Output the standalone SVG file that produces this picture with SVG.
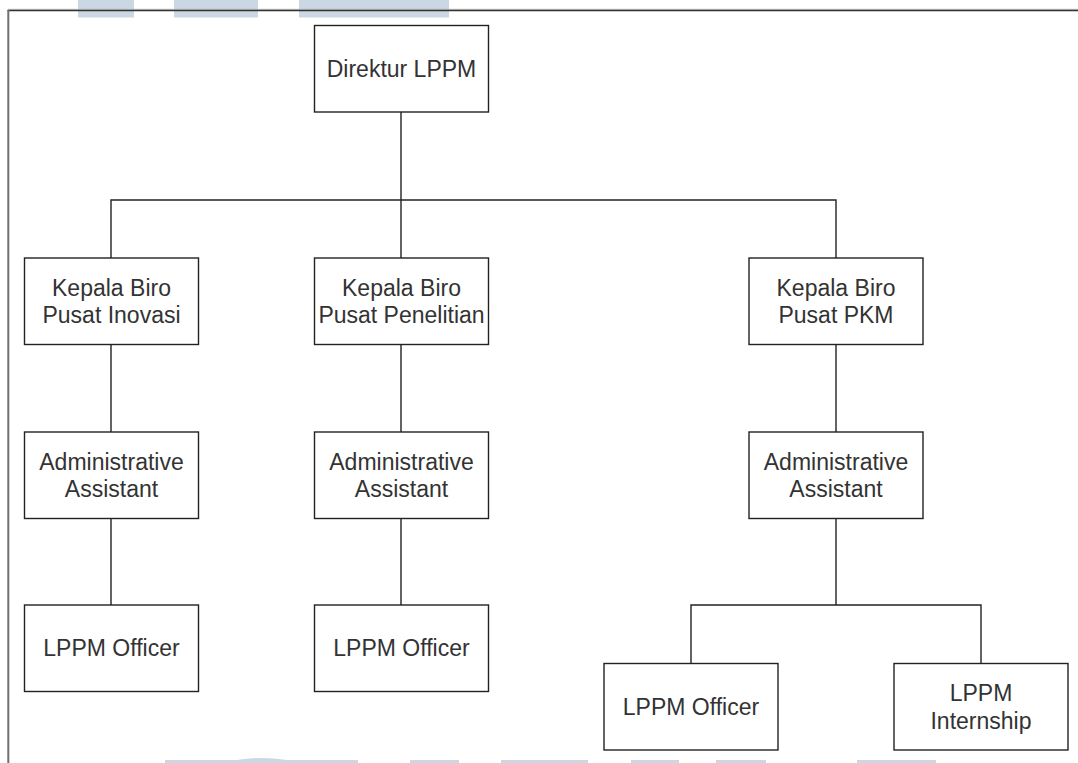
<svg xmlns="http://www.w3.org/2000/svg" width="1078" height="763" viewBox="0 0 1078 763">
<style>
.wm{fill:#cbd7e2}
.node rect{fill:#ffffff;stroke:#222222;stroke-width:1.4}
.node text{font-family:"Liberation Sans",Arial,sans-serif;font-size:23px;fill:#333333;text-anchor:middle}
#connectors path{fill:none;stroke:#222222;stroke-width:1.4}
</style>
<rect width="1078" height="763" fill="#ffffff"/>
<g id="watermark">
<rect class="wm" x="78" y="0" width="56" height="17.5"/>
<rect class="wm" x="174" y="0" width="84" height="17.5"/>
<rect class="wm" x="299" y="0" width="150" height="17.5"/>
<path class="wm" d="M165 760 L237 760 Q262 756 287 760 L358 760 L358 763 L165 763 Z"/>
<rect class="wm" x="410" y="760" width="49" height="3"/>
<rect class="wm" x="501" y="760" width="87" height="3"/>
<rect class="wm" x="631" y="760" width="48" height="3"/>
<rect class="wm" x="716" y="760" width="50" height="3"/>
<rect class="wm" x="857" y="760" width="79" height="3"/>
</g>
<g id="frame">
<line x1="8" y1="9.3" x2="1078" y2="9.3" stroke="#bbbbbb" stroke-width="1"/>
<line x1="7.5" y1="10.6" x2="1078" y2="10.6" stroke="#333333" stroke-width="1.5"/>
<line x1="8.3" y1="10" x2="8.3" y2="763" stroke="#707070" stroke-width="2"/>
</g>
<g id="connectors">
<path d="M401 112 V258"/>
<path d="M111 258 V200 H836 V258"/>
<path d="M111 344 V432"/>
<path d="M401 344 V432"/>
<path d="M836 344 V432"/>
<path d="M111 518 V605"/>
<path d="M401 518 V605"/>
<path d="M836 518 V605"/>
<path d="M691 663 V605 H981 V663"/>
</g>
<g id="n-direktur" class="node">
<rect x="314.5" y="25.5" width="174" height="86.5"/>
<text x="401.5" y="77">Direktur LPPM</text>
</g>
<g id="n-kb-inovasi" class="node">
<rect x="24.5" y="258" width="174" height="86.5"/>
<text x="111.5" y="295.5">Kepala Biro</text>
<text x="111.5" y="323">Pusat Inovasi</text>
</g>
<g id="n-kb-penelitian" class="node">
<rect x="314.5" y="258" width="174" height="86.5"/>
<text x="401.5" y="295.5">Kepala Biro</text>
<text x="401.5" y="323">Pusat Penelitian</text>
</g>
<g id="n-kb-pkm" class="node">
<rect x="749" y="258" width="174" height="86.5"/>
<text x="836" y="295.5">Kepala Biro</text>
<text x="836" y="323">Pusat PKM</text>
</g>
<g id="n-aa-1" class="node">
<rect x="24.5" y="432" width="174" height="86.5"/>
<text x="111.5" y="469.5">Administrative</text>
<text x="111.5" y="497">Assistant</text>
</g>
<g id="n-aa-2" class="node">
<rect x="314.5" y="432" width="174" height="86.5"/>
<text x="401.5" y="469.5">Administrative</text>
<text x="401.5" y="497">Assistant</text>
</g>
<g id="n-aa-3" class="node">
<rect x="749" y="432" width="174" height="86.5"/>
<text x="836" y="469.5">Administrative</text>
<text x="836" y="497">Assistant</text>
</g>
<g id="n-off-1" class="node">
<rect x="24.5" y="605" width="174" height="86.5"/>
<text x="111.5" y="656">LPPM Officer</text>
</g>
<g id="n-off-2" class="node">
<rect x="314.5" y="605" width="174" height="86.5"/>
<text x="401.5" y="656">LPPM Officer</text>
</g>
<g id="n-off-3" class="node">
<rect x="604" y="663.5" width="174" height="86.5"/>
<text x="691" y="714.5">LPPM Officer</text>
</g>
<g id="n-intern" class="node">
<rect x="894" y="663.5" width="174" height="86.5"/>
<text x="981" y="701">LPPM</text>
<text x="981" y="728.5">Internship</text>
</g>
</svg>
